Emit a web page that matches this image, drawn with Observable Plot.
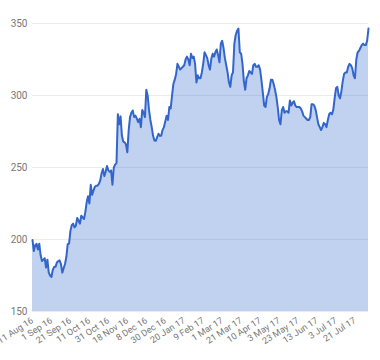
<!DOCTYPE html>
<html>
<head>
<meta charset="utf-8">
<script src="https://cdn.jsdelivr.net/npm/d3@7"></script>
<script src="https://cdn.jsdelivr.net/npm/@observablehq/plot@0.6"></script>
<style>
  html, body { margin: 0; padding: 0; background: #fff; }
  #chart svg { overflow: visible; }
</style>
</head>
<body>
<div id="chart"></div>
<script>
// Daily closing values (trading days, 11 Aug 16 .. early Aug 17)
const values = [
  199.6, 192, 196, 197, 193, 197, 189, 185, 186, 187,
  180.5, 186, 177, 175, 174, 179, 181, 181, 184, 185,
  185.5, 183, 177, 180, 183, 188, 196.8, 197.2, 206, 210,
  211, 208.4, 209.5, 215, 213, 211, 216.5, 215.3, 214.2, 219,
  226, 230, 225, 238, 231, 234, 236.5, 237.4, 237.4, 238.6,
  241, 246, 249, 244, 247, 251, 248, 247, 248, 238,
  250, 252, 253, 287, 280, 285.5, 272, 268, 267.5, 266,
  260.6, 276, 285, 288, 289.6, 285, 286, 284, 281.5, 283.8,
  278, 290, 288, 285, 304, 300, 290, 283, 278, 272,
  268.7, 268.5, 271, 273.4, 272, 272, 276, 278, 282, 286,
  283, 292, 291, 300, 308, 311, 315, 322, 320, 318,
  319, 320, 321, 325, 327, 325, 321, 329, 326, 327,
  322, 309, 314, 312, 312, 316, 322, 330, 328, 326,
  321, 318, 325.6, 329, 327, 330, 332, 328, 323, 336,
  338, 333, 326, 321, 316, 309, 306, 314, 316.3, 336,
  342, 345, 346.5, 330, 329, 322, 310, 304, 312, 314,
  317, 316, 315, 321, 322, 320, 320, 321, 318, 310.5,
  302, 293, 292, 299, 301, 305, 311, 311, 308, 304,
  299, 292, 283, 280, 289.6, 292, 288, 289, 289, 288,
  296.6, 293, 295, 296, 293, 292, 292, 292, 291, 289,
  286, 285, 284, 283, 283, 285, 294, 294, 293, 290,
  285, 280, 278, 276, 278, 281, 280, 278, 283, 287,
  288, 287, 290, 298, 305, 306, 300, 298, 303, 310,
  315, 316, 316, 320, 322, 321, 319, 314, 312, 325,
  330, 331, 333, 335, 336, 335, 335, 338, 346.5
];

// Axis labels (every 14th trading day)
const tickLabels = [
  "11 Aug 16", "1 Sep 16", "21 Sep 16", "11 Oct 16", "31 Oct 16",
  "18 Nov 16", "8 Dec 16", "30 Dec 16", "20 Jan 17", "9 Feb 17",
  "1 Mar 17", "21 Mar 17", "10 Apr 17", "3 May 17", "23 May 17",
  "13 Jun 17", "3 Jul 17", "21 Jul 17"
];
const tickStep = 14;
const yTicks = [150, 200, 250, 300, 350];

const data = values.map((v, i) => ({i, v}));
const xTicks = tickLabels.map((_, k) => k * tickStep);

const chart = Plot.plot({
  width: 380,
  height: 360,
  marginTop: 23,
  marginBottom: 49,
  marginLeft: 32,
  marginRight: 12,
  style: {fontFamily: "Roboto, 'Liberation Sans', Arial, sans-serif", fontSize: "10px", color: "#777", background: "#fff"},
  x: {domain: [0, values.length - 1]},
  y: {domain: [150, 350]},
  marks: [
    Plot.ruleY(yTicks, {stroke: "#ebebeb", strokeWidth: 1}),
    Plot.areaY(data, {x: "i", y1: 150, y2: "v", fill: "#3366cc", fillOpacity: 0.3}),
    Plot.lineY(data, {x: "i", y: "v", stroke: "#3366cc", strokeWidth: 2}),
    Plot.axisY({ticks: yTicks, tickSize: 0, tickPadding: 5, label: null}),
    Plot.axisX({ticks: xTicks, tickFormat: d => tickLabels[Math.round(d / tickStep)], tickSize: 0, tickPadding: 8, tickRotate: -33, fontSize: 9, label: null})
  ]
});
document.getElementById("chart").appendChild(chart);
</script>
</body>
</html>
